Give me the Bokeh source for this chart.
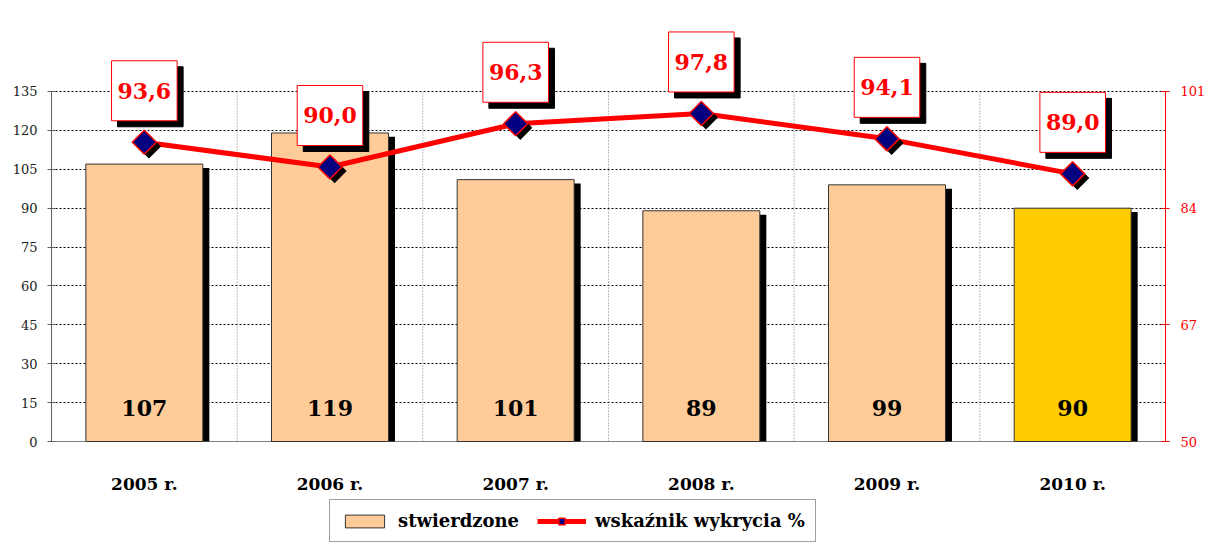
import numpy as np
from bokeh.plotting import figure
from bokeh.models import (ColumnDataSource, FactorRange, Range1d, LinearAxis,
                          FixedTicker, Grid, Legend, LegendItem)
from bokeh.transform import dodge
from bokeh.core.properties import value
from bokeh.embed import file_html
from bokeh.resources import INLINE

years = ["2005 r.", "2006 r.", "2007 r.", "2008 r.", "2009 r.", "2010 r."]
stwierdzone = [107, 119, 101, 89, 99, 90]
wskaznik = [93.6, 90.0, 96.3, 97.8, 94.1, 89.0]
left_ticks = [0, 15, 30, 45, 60, 75, 90, 105, 120, 135]
right_ticks = [50, 67, 84, 101]
bar_colors = ["#FFCC99", "#FFCC99", "#FFCC99", "#FFCC99", "#FFCC99", "#FFCC00"]

FONT = "DejaVu Serif"

src = ColumnDataSource(dict(
    x=years, s=stwierdzone, w=wskaznik, c=bar_colors,
    s_lbl=[str(v) for v in stwierdzone],
    w_lbl=[f"{v:.1f}".replace(".", ",") for v in wskaznik],
))

W, H = 1208, 543
p = figure(width=W, height=H, x_range=FactorRange(factors=years), y_range=Range1d(-39.34, 165.47),
           x_axis_location=None, y_axis_location=None,
           output_backend="svg", toolbar_location=None,
           min_border_left=51, min_border_right=39, min_border_top=12, min_border_bottom=0)
p.grid.visible = False
p.outline_line_color = None
p.background_fill_color = "white"
p.border_fill_color = "white"

p.extra_y_ranges = {"right": Range1d(35.14, 112.51)}

# axes
yaxis = LinearAxis(ticker=FixedTicker(ticks=left_ticks), bounds=(left_ticks[0], left_ticks[-1]),
                   axis_line_color="#606060", major_tick_line_color="#606060",
                   major_tick_in=4, major_tick_out=4, minor_tick_line_color=None,
                   major_label_text_font=FONT, major_label_text_font_size="13px",
                   major_label_text_color="#222222", major_label_standoff=10)
p.add_layout(yaxis, "left")

raxis = LinearAxis(y_range_name="right", ticker=FixedTicker(ticks=right_ticks),
                   bounds=(right_ticks[0], right_ticks[-1]),
                   axis_line_color="red", major_tick_line_color="red",
                   major_tick_in=4, major_tick_out=4, minor_tick_line_color=None,
                   major_label_text_font=FONT, major_label_text_font_size="13px",
                   major_label_text_color="red", major_label_standoff=11)
p.add_layout(raxis, "right")

# grids
hgrid = Grid(dimension=1, ticker=FixedTicker(ticks=left_ticks[1:]),
             grid_line_color="black", grid_line_dash="2 2", grid_line_width=1)
p.add_layout(hgrid, "center")
base = Grid(dimension=1, ticker=FixedTicker(ticks=left_ticks[:1]),
            grid_line_color="#808080", grid_line_width=1.2)
p.add_layout(base, "center")

# vertical dotted separators between categories (from 0 up to the top tick)
p.segment(x0=dodge("x", 0.5, range=p.x_range), y0=left_ticks[0],
          x1=dodge("x", 0.5, range=p.x_range), y1=left_ticks[-1], source=src,
          line_color="#808080", line_dash="1 2", line_width=1)

# bars
p.vbar(x=dodge("x", 0.035, range=p.x_range), top=dodge("s", -1.5), bottom=0, width=0.63,
       source=src, fill_color="black", line_color=None)
bars = p.vbar(x="x", top="s", bottom=0, width=0.63, source=src,
              fill_color="c", line_color="#333333", line_width=1)
p.text(x="x", y=0, text="s_lbl", source=src, y_offset=-34, text_align="center",
       text_baseline="middle", text_font=value(FONT), text_font_style="bold",
       text_font_size="22px", text_color="black")

# category labels under the base line
p.text(x="x", y=0, text="x", source=src, y_offset=42, text_align="center",
       text_baseline="middle", text_font=value(FONT), text_font_style="bold",
       text_font_size="17px", text_color="black")

# line
line_r = p.line(x="x", y="w", y_range_name="right", source=src, line_color="red", line_width=5)
p.scatter(x=dodge("x", 0.025, range=p.x_range), y=dodge("w", -0.6), y_range_name="right",
          source=src, marker="square", angle=np.pi / 4, size=17, fill_color="black", line_color=None)
sc = p.scatter(x="x", y="w", y_range_name="right", source=src, marker="square", angle=np.pi / 4,
               size=17, fill_color="#000080", line_color="red", line_width=1.5)

# value boxes
p.text(x="x", y="w", text="w_lbl", source=src, y_range_name="right", x_offset=6, y_offset=-45.5,
       text_align="center", text_baseline="middle", text_font=value(FONT), text_font_style="bold",
       text_font_size="22px", text_color="black", background_fill_color="black",
       border_line_color="black", padding=(6, 22))
p.text(x="x", y="w", text="w_lbl", source=src, y_range_name="right", y_offset=-51.5,
       text_align="center", text_baseline="middle", text_font=value(FONT), text_font_style="bold",
       text_font_size="22px", text_color="red", background_fill_color="white",
       border_line_color="red", border_line_width=1, padding=(6, 22))

# legend (inside the frame, at its bottom)
legend = Legend(items=[LegendItem(label="stwierdzone", renderers=[bars], index=0),
                       LegendItem(label="wskaźnik wykrycia %", renderers=[line_r, sc])],
                orientation="horizontal", label_text_font=FONT, label_text_font_style="bold",
                label_text_font_size="18px", label_text_color="black",
                glyph_width=49, glyph_height=16, label_standoff=9,
                spacing=18, padding=10, border_line_color="#404040", border_line_width=1,
                background_fill_color="white", location=(278, 1))
p.add_layout(legend, "center")

open("out.html", "w").write(file_html(p, INLINE))
